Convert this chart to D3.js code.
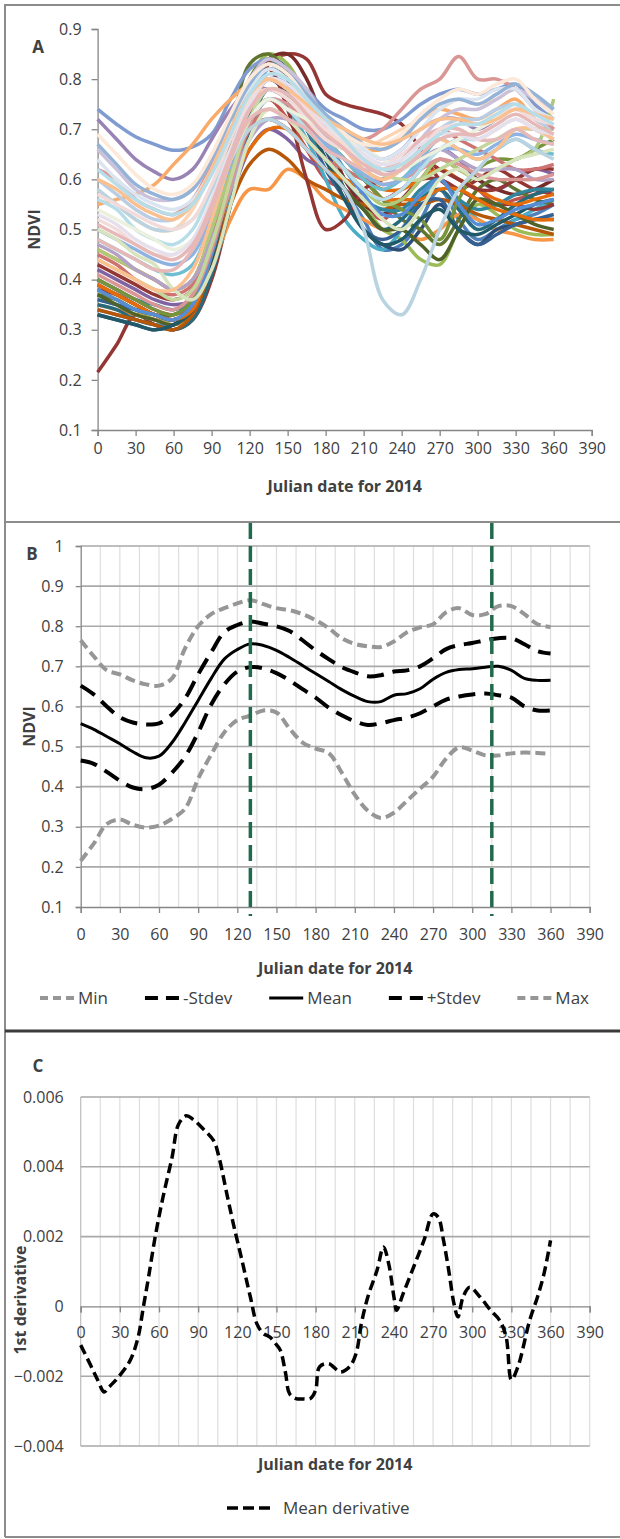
<!DOCTYPE html>
<html>
<head>
<meta charset="utf-8">
<script src="https://cdn.jsdelivr.net/npm/d3@7"></script>
<style>
  body { margin: 0; background: #fff; }
  svg text { font-family: "Open Sans", sans-serif; fill: #404040; }
</style>
</head>
<body>
<svg id="chart" width="620" height="1539"></svg>
<script>
// ---- data ----
const xTickDays = [0, 30, 60, 90, 120, 150, 180, 210, 240, 270, 300, 330, 360, 390];
const ndviTicksA = [0.1, 0.2, 0.3, 0.4, 0.5, 0.6, 0.7, 0.8, 0.9];
const ndviTicksB = [0.1, 0.2, 0.3, 0.4, 0.5, 0.6, 0.7, 0.8, 0.9, 1];
const derivTicks = [-0.004, -0.002, 0, 0.002, 0.004, 0.006];

// panel A: individual pixel profiles (saturated ones first, pale ones drawn on top)
const pixelDays = [0, 15, 30, 45, 60, 75, 90, 105, 120, 135, 150, 165, 180, 195, 210, 225, 240, 255, 270, 285, 300, 315, 330, 345, 360];
const pixelColors = [
  '#943634', '#4F81BD', '#C0504D', '#9BBB59', '#8064A2', '#4BACC6', '#F79646', '#2C4D75', '#772C2A',
  '#5F7530', '#276A7C', '#B65708', '#376092', '#953735', '#31859C', '#77933C', '#E46C0A', '#943634',
  '#4F6228', '#215968', '#E46C0A', '#558ED5',
  '#7F9BCF', '#9983B5', '#CD7371', '#AFC97A', '#6FBDD1', '#F9AB6B', '#B3A2C7', '#D99694', '#8DB3E2', '#C3D69B',
  '#B9CDE5', '#D99694', '#D7E4BD', '#FCD5B5', '#CCC1DA', '#B7DEE8', '#B9D3E0', '#F2DCDB', '#FAC090',
  '#EBF1DE', '#DBE5F1', '#E6B9B8', '#95B3D7', '#FDE9D9', '#E5E0EC', '#F2DCDB', '#FAC090', '#B7DEE8', '#E6B9B8'
];
const pixelNdvi = [
  [0.215,0.27,0.33,0.31,0.30,0.32,0.40,0.55,0.72,0.83,0.85,0.84,0.77,0.75,0.74,0.73,0.71,0.66,0.60,0.58,0.60,0.62,0.60,0.58,0.57],
  [0.34,0.33,0.32,0.31,0.31,0.33,0.42,0.58,0.74,0.82,0.80,0.72,0.64,0.58,0.52,0.46,0.47,0.52,0.58,0.52,0.48,0.50,0.52,0.53,0.55],
  [0.40,0.38,0.36,0.34,0.33,0.35,0.44,0.58,0.72,0.76,0.72,0.66,0.60,0.58,0.55,0.52,0.56,0.60,0.62,0.60,0.58,0.55,0.56,0.57,0.58],
  [0.38,0.36,0.34,0.32,0.32,0.33,0.45,0.63,0.80,0.85,0.83,0.76,0.68,0.60,0.55,0.50,0.48,0.44,0.43,0.50,0.55,0.53,0.50,0.49,0.49],
  [0.42,0.40,0.38,0.36,0.35,0.36,0.44,0.56,0.66,0.70,0.68,0.64,0.62,0.60,0.58,0.56,0.58,0.62,0.66,0.64,0.60,0.58,0.60,0.62,0.61],
  [0.36,0.35,0.33,0.32,0.31,0.33,0.42,0.56,0.70,0.76,0.74,0.68,0.60,0.52,0.48,0.46,0.50,0.56,0.60,0.56,0.52,0.50,0.52,0.54,0.56],
  [0.35,0.34,0.33,0.32,0.31,0.33,0.42,0.52,0.58,0.58,0.62,0.60,0.56,0.54,0.52,0.50,0.50,0.48,0.50,0.53,0.52,0.50,0.49,0.48,0.48],
  [0.33,0.32,0.31,0.30,0.31,0.34,0.45,0.62,0.78,0.84,0.82,0.74,0.66,0.58,0.50,0.47,0.46,0.50,0.55,0.50,0.47,0.50,0.51,0.52,0.52],
  [0.39,0.37,0.35,0.33,0.32,0.34,0.44,0.60,0.76,0.84,0.85,0.80,0.70,0.60,0.55,0.53,0.56,0.60,0.64,0.62,0.60,0.58,0.57,0.58,0.60],
  [0.37,0.36,0.34,0.33,0.33,0.36,0.50,0.68,0.83,0.85,0.81,0.74,0.68,0.64,0.60,0.56,0.52,0.50,0.47,0.52,0.58,0.60,0.58,0.56,0.55],
  [0.35,0.34,0.32,0.31,0.30,0.32,0.41,0.55,0.70,0.78,0.76,0.70,0.64,0.58,0.54,0.50,0.52,0.56,0.58,0.54,0.50,0.52,0.55,0.57,0.58],
  [0.34,0.33,0.32,0.31,0.30,0.33,0.43,0.55,0.63,0.66,0.64,0.60,0.58,0.56,0.55,0.54,0.55,0.55,0.56,0.55,0.53,0.52,0.51,0.50,0.49],
  [0.36,0.35,0.34,0.33,0.32,0.35,0.46,0.62,0.76,0.80,0.77,0.70,0.62,0.56,0.50,0.48,0.50,0.55,0.56,0.50,0.47,0.49,0.51,0.52,0.53],
  [0.43,0.41,0.39,0.37,0.36,0.38,0.47,0.60,0.70,0.72,0.70,0.66,0.62,0.60,0.58,0.56,0.58,0.60,0.60,0.58,0.56,0.55,0.55,0.54,0.55],
  [0.40,0.38,0.36,0.35,0.34,0.36,0.46,0.60,0.72,0.78,0.76,0.70,0.64,0.60,0.56,0.54,0.54,0.58,0.60,0.56,0.54,0.55,0.57,0.58,0.58],
  [0.40,0.38,0.36,0.34,0.33,0.36,0.48,0.64,0.78,0.82,0.80,0.74,0.68,0.64,0.60,0.56,0.54,0.52,0.48,0.56,0.62,0.64,0.64,0.66,0.68],
  [0.46,0.44,0.42,0.40,0.38,0.40,0.50,0.62,0.72,0.76,0.74,0.70,0.66,0.62,0.60,0.58,0.58,0.60,0.62,0.60,0.58,0.56,0.55,0.56,0.57],
  [0.38,0.37,0.35,0.33,0.32,0.34,0.45,0.62,0.78,0.82,0.74,0.60,0.50,0.52,0.58,0.60,0.62,0.64,0.62,0.60,0.58,0.58,0.60,0.62,0.62],
  [0.37,0.35,0.33,0.32,0.31,0.34,0.46,0.64,0.80,0.84,0.80,0.72,0.64,0.58,0.54,0.50,0.50,0.47,0.44,0.50,0.56,0.55,0.53,0.51,0.50],
  [0.33,0.32,0.31,0.30,0.31,0.34,0.44,0.60,0.74,0.80,0.78,0.72,0.64,0.56,0.50,0.47,0.48,0.52,0.54,0.50,0.49,0.51,0.53,0.55,0.56],
  [0.39,0.37,0.35,0.33,0.32,0.34,0.45,0.58,0.66,0.70,0.70,0.66,0.62,0.60,0.58,0.56,0.56,0.56,0.58,0.58,0.56,0.54,0.53,0.52,0.52],
  [0.38,0.36,0.34,0.33,0.32,0.35,0.45,0.60,0.74,0.80,0.79,0.74,0.68,0.62,0.57,0.53,0.53,0.57,0.60,0.55,0.51,0.52,0.54,0.55,0.56],
  [0.74,0.71,0.685,0.67,0.658,0.665,0.69,0.76,0.82,0.84,0.82,0.78,0.74,0.72,0.70,0.70,0.72,0.75,0.77,0.78,0.77,0.78,0.79,0.75,0.72],
  [0.72,0.68,0.64,0.615,0.60,0.62,0.68,0.74,0.78,0.78,0.76,0.72,0.70,0.68,0.66,0.64,0.66,0.70,0.72,0.72,0.70,0.72,0.74,0.72,0.70],
  [0.45,0.43,0.40,0.38,0.37,0.39,0.48,0.60,0.70,0.74,0.72,0.68,0.64,0.62,0.60,0.60,0.62,0.66,0.70,0.68,0.66,0.64,0.62,0.62,0.63],
  [0.46,0.44,0.42,0.40,0.38,0.40,0.50,0.62,0.72,0.76,0.74,0.70,0.66,0.62,0.58,0.55,0.56,0.60,0.64,0.62,0.60,0.62,0.64,0.66,0.76],
  [0.48,0.46,0.44,0.42,0.41,0.43,0.52,0.64,0.74,0.78,0.76,0.72,0.68,0.64,0.60,0.58,0.60,0.64,0.68,0.66,0.64,0.66,0.68,0.66,0.65],
  [0.55,0.56,0.57,0.59,0.63,0.67,0.72,0.76,0.79,0.80,0.78,0.74,0.70,0.68,0.66,0.66,0.68,0.72,0.74,0.73,0.72,0.74,0.76,0.72,0.70],
  [0.47,0.45,0.42,0.40,0.38,0.40,0.48,0.58,0.68,0.72,0.72,0.70,0.68,0.66,0.64,0.62,0.62,0.64,0.66,0.64,0.62,0.62,0.62,0.60,0.60],
  [0.41,0.39,0.37,0.35,0.34,0.37,0.46,0.59,0.71,0.76,0.75,0.71,0.67,0.64,0.61,0.59,0.60,0.62,0.64,0.63,0.61,0.60,0.60,0.60,0.61],
  [0.50,0.48,0.46,0.44,0.43,0.45,0.53,0.63,0.72,0.76,0.74,0.70,0.67,0.64,0.61,0.59,0.60,0.63,0.66,0.66,0.65,0.67,0.69,0.68,0.67],
  [0.44,0.42,0.40,0.38,0.36,0.38,0.47,0.60,0.72,0.78,0.77,0.73,0.70,0.67,0.64,0.61,0.60,0.60,0.62,0.64,0.66,0.68,0.70,0.70,0.70],
  [0.60,0.57,0.54,0.52,0.52,0.55,0.62,0.70,0.76,0.80,0.78,0.74,0.70,0.66,0.62,0.60,0.62,0.66,0.70,0.72,0.72,0.74,0.75,0.72,0.70],
  [0.62,0.60,0.56,0.54,0.53,0.56,0.63,0.72,0.78,0.80,0.78,0.74,0.72,0.70,0.68,0.70,0.74,0.78,0.80,0.845,0.80,0.80,0.78,0.74,0.70],
  [0.50,0.48,0.45,0.43,0.38,0.36,0.42,0.55,0.68,0.74,0.72,0.68,0.64,0.60,0.56,0.52,0.50,0.54,0.60,0.62,0.60,0.62,0.64,0.65,0.66],
  [0.58,0.55,0.52,0.50,0.50,0.54,0.62,0.70,0.76,0.78,0.76,0.72,0.68,0.66,0.66,0.68,0.70,0.72,0.74,0.76,0.75,0.76,0.78,0.74,0.72],
  [0.66,0.62,0.58,0.56,0.56,0.58,0.64,0.72,0.80,0.84,0.82,0.78,0.72,0.68,0.64,0.62,0.64,0.68,0.72,0.74,0.74,0.76,0.78,0.76,0.74],
  [0.56,0.54,0.50,0.48,0.47,0.50,0.58,0.66,0.72,0.76,0.74,0.70,0.66,0.62,0.58,0.56,0.58,0.62,0.66,0.68,0.68,0.70,0.72,0.70,0.68],
  [0.58,0.55,0.52,0.50,0.50,0.52,0.58,0.64,0.70,0.72,0.70,0.66,0.62,0.58,0.50,0.36,0.33,0.40,0.50,0.58,0.62,0.66,0.68,0.66,0.64],
  [0.52,0.50,0.47,0.45,0.45,0.48,0.56,0.66,0.74,0.78,0.76,0.72,0.68,0.66,0.64,0.63,0.65,0.68,0.70,0.70,0.68,0.70,0.72,0.70,0.68],
  [0.44,0.42,0.40,0.38,0.38,0.42,0.52,0.64,0.74,0.80,0.78,0.74,0.70,0.66,0.62,0.60,0.62,0.66,0.68,0.66,0.64,0.66,0.70,0.70,0.68],
  [0.54,0.52,0.50,0.48,0.46,0.48,0.55,0.64,0.72,0.76,0.74,0.72,0.70,0.68,0.66,0.64,0.62,0.64,0.66,0.68,0.70,0.72,0.74,0.73,0.72],
  [0.64,0.60,0.57,0.55,0.54,0.56,0.62,0.70,0.78,0.82,0.80,0.76,0.72,0.70,0.66,0.64,0.66,0.70,0.74,0.76,0.76,0.78,0.78,0.74,0.72],
  [0.48,0.46,0.44,0.42,0.42,0.46,0.54,0.64,0.72,0.74,0.72,0.70,0.66,0.64,0.62,0.62,0.64,0.68,0.70,0.70,0.68,0.68,0.70,0.68,0.67],
  [0.67,0.63,0.59,0.57,0.56,0.58,0.64,0.72,0.79,0.83,0.81,0.77,0.73,0.70,0.67,0.66,0.68,0.72,0.75,0.76,0.75,0.77,0.79,0.77,0.74],
  [0.69,0.65,0.61,0.58,0.57,0.59,0.65,0.73,0.80,0.83,0.81,0.76,0.72,0.69,0.67,0.67,0.69,0.73,0.76,0.78,0.77,0.79,0.80,0.76,0.73],
  [0.53,0.51,0.48,0.46,0.45,0.48,0.56,0.66,0.75,0.80,0.79,0.75,0.71,0.68,0.65,0.63,0.64,0.67,0.69,0.69,0.68,0.70,0.72,0.70,0.69],
  [0.57,0.55,0.53,0.51,0.50,0.52,0.59,0.68,0.76,0.80,0.78,0.74,0.70,0.67,0.64,0.62,0.63,0.66,0.70,0.71,0.71,0.73,0.74,0.72,0.71],
  [0.60,0.58,0.55,0.53,0.52,0.55,0.62,0.70,0.77,0.80,0.78,0.75,0.72,0.70,0.68,0.67,0.68,0.70,0.72,0.72,0.71,0.72,0.74,0.73,0.72],
  [0.62,0.59,0.56,0.54,0.53,0.55,0.61,0.69,0.77,0.81,0.80,0.76,0.72,0.68,0.64,0.62,0.63,0.66,0.69,0.71,0.71,0.73,0.75,0.73,0.71],
  [0.51,0.49,0.47,0.45,0.44,0.47,0.55,0.65,0.74,0.78,0.77,0.73,0.69,0.66,0.63,0.61,0.62,0.65,0.68,0.69,0.69,0.71,0.73,0.71,0.69]
];

// panel B: summary statistics
const statDays = [0,10,20,30,40,50,60,70,80,90,100,110,120,130,140,150,160,170,180,190,200,210,220,230,240,250,260,270,280,290,300,310,320,330,340,350,360];
const ndviMin = [0.215,0.258,0.307,0.318,0.305,0.298,0.303,0.32,0.345,0.42,0.48,0.535,0.566,0.577,0.59,0.585,0.545,0.51,0.495,0.484,0.435,0.38,0.34,0.322,0.335,0.365,0.395,0.425,0.47,0.498,0.49,0.478,0.478,0.483,0.485,0.484,0.482];
const ndviMinusSd = [0.465,0.457,0.437,0.415,0.398,0.394,0.405,0.435,0.475,0.535,0.605,0.655,0.687,0.698,0.695,0.683,0.665,0.643,0.622,0.597,0.578,0.563,0.554,0.558,0.566,0.572,0.583,0.60,0.617,0.625,0.63,0.632,0.628,0.622,0.60,0.59,0.59];
const ndviMean = [0.557,0.543,0.525,0.507,0.487,0.472,0.476,0.51,0.56,0.615,0.67,0.718,0.742,0.756,0.752,0.74,0.722,0.702,0.682,0.662,0.642,0.625,0.612,0.612,0.628,0.632,0.644,0.668,0.685,0.692,0.694,0.698,0.70,0.69,0.67,0.665,0.665];
const ndviPlusSd = [0.652,0.63,0.60,0.573,0.56,0.555,0.558,0.58,0.62,0.68,0.735,0.785,0.803,0.812,0.806,0.80,0.788,0.765,0.74,0.718,0.698,0.685,0.675,0.678,0.687,0.69,0.70,0.72,0.743,0.753,0.758,0.765,0.77,0.77,0.755,0.738,0.732];
const ndviMax = [0.765,0.725,0.69,0.68,0.665,0.655,0.652,0.67,0.745,0.80,0.83,0.845,0.857,0.865,0.855,0.845,0.84,0.83,0.815,0.795,0.77,0.756,0.75,0.748,0.762,0.785,0.797,0.805,0.835,0.845,0.828,0.83,0.85,0.85,0.83,0.805,0.798];
const statNames = ['Min', '-Stdev', 'Mean', '+Stdev', 'Max'];
const peakDays = [130, 315];

// panel C: first derivative of the mean
const derivDays = [0,7,13,18,22,29,38,44,48,52,57,63,70,75,81,86,94,102,106,112,117,123,130,135,140,145,150,153,157,160,165,170,176,180,183,190,199,206,211,215,220,227,232,236,240,242,247,255,263,270,274,278,282,286,289,293,298,306,314,321,326,330,335,344,350,355,360];
const derivMean = [-0.00111,-0.00164,-0.00211,-0.00245,-0.0023,-0.00202,-0.00154,-0.00088,-0.00002,0.00084,
  0.00198,0.00312,0.00427,0.00522,0.00546,0.00536,0.00508,0.00474,0.00427,0.00322,
  0.00236,0.00141,0.00027,-0.0005,-0.00078,-0.00088,-0.0011,-0.00126,-0.00192,-0.0025,
  -0.00264,-0.00265,-0.00264,-0.0024,-0.00173,-0.00164,-0.00188,-0.00173,-0.00135,-0.0005,
  0.00027,0.00103,0.0017,0.00122,0.00027,-0.00011,0.00036,0.00112,0.00189,0.00265,
  0.00255,0.00189,0.00103,0.00008,-0.0003,0.00027,0.00055,0.00027,-0.00011,-0.0004,
  -0.00088,-0.0021,-0.00173,-0.0004,0.00027,0.00094,0.00189];

// ---- layout ----
const svg = d3.select('#chart');
const axisGray = '#868686';
const font = '"Open Sans", sans-serif';
const tickSize = 16;

const styleAxis = (g) => {
    g.attr('font-family', font).attr('font-size', tickSize);
    g.select('.domain').attr('stroke', axisGray).attr('stroke-width', 1.3);
    g.selectAll('.tick line').attr('stroke', axisGray).attr('stroke-width', 1.3);
    g.selectAll('.tick text').attr('fill', '#3a3a3a');
};

const addText = (txt, x, y, opts = {}) => {
    const t = svg.append('text')
        .attr('x', x).attr('y', y)
        .attr('text-anchor', opts.anchor || 'middle')
        .attr('font-size', opts.size || 16)
        .attr('font-weight', opts.bold ? 'bold' : 'normal')
        .attr('fill', opts.fill || '#262626')
        .text(txt);
    if (opts.rotate) t.attr('transform', `rotate(-90, ${x}, ${y})`);
    return t;
};

// frame around the panels
const frame = svg.append('g').attr('fill', 'none');
frame.append('path').attr('d', 'M5,1537V5H620').attr('stroke', '#8c8c8c').attr('stroke-width', 2);
frame.append('line').attr('x1', 5).attr('x2', 620).attr('y1', 522).attr('y2', 522).attr('stroke', '#8c8c8c').attr('stroke-width', 2);
frame.append('line').attr('x1', 5).attr('x2', 620).attr('y1', 1031).attr('y2', 1031).attr('stroke', '#3a3a3a').attr('stroke-width', 3);
frame.append('line').attr('x1', 5).attr('x2', 620).attr('y1', 1537).attr('y2', 1537).attr('stroke', '#8c8c8c').attr('stroke-width', 2);

// ---- panel A ----
const xA = d3.scaleLinear().domain([0, 390]).range([97.6, 591.7]);
const yA = d3.scaleLinear().domain([0.1, 0.9]).range([430, 29]);

svg.append('g').attr('transform', `translate(0,${yA(0.1)})`)
   .call(d3.axisBottom(xA).tickValues(xTickDays).tickSize(6).tickPadding(7).tickFormat(d3.format('d')))
   .call(styleAxis);
svg.append('g').attr('transform', `translate(${xA(0)},0)`)
   .call(d3.axisLeft(yA).tickValues(ndviTicksA).tickSize(6).tickPadding(10).tickFormat(d3.format('.1f')))
   .call(styleAxis);

const lineA = d3.line()
    .x((d, i) => xA(pixelDays[i]))
    .y(d => yA(d))
    .curve(d3.curveCatmullRom.alpha(0.5));

svg.append('g').selectAll('path')
   .data(pixelNdvi)
   .join('path')
   .attr('d', lineA)
   .attr('fill', 'none')
   .attr('stroke', (d, i) => pixelColors[i])
   .attr('stroke-width', 3.5);

addText('A', 38, 53, {bold: true, size: 17});
addText('NDVI', 40, (yA(0.1) + yA(0.9)) / 2, {bold: true, rotate: true, size: 16});
addText('Julian date for 2014', (xA(0) + xA(390)) / 2, 492, {bold: true, size: 16});

// ---- panel B ----
const xB = d3.scaleLinear().domain([0, 390]).range([80.7, 589.7]);
const yB = d3.scaleLinear().domain([0.1, 1]).range([907, 546]);

const gridB = svg.append('g');
gridB.selectAll('line.v')
     .data(d3.range(15, 391, 15))
     .join('line')
     .attr('x1', d => xB(d)).attr('x2', d => xB(d))
     .attr('y1', yB(1)).attr('y2', yB(0.1))
     .attr('stroke', '#dedede').attr('stroke-width', 1.2);
gridB.selectAll('line.h')
     .data(ndviTicksB.slice(1))
     .join('line')
     .attr('x1', xB(0)).attr('x2', xB(390))
     .attr('y1', d => yB(d)).attr('y2', d => yB(d))
     .attr('stroke', '#a9a9a9').attr('stroke-width', 1.6);

svg.append('g').attr('transform', `translate(0,${yB(0.1)})`)
   .call(d3.axisBottom(xB).tickValues(xTickDays).tickSize(6).tickPadding(16).tickFormat(d3.format('d')))
   .call(styleAxis);
svg.append('g').attr('transform', `translate(${xB(0)},0)`)
   .call(d3.axisLeft(yB).tickValues(ndviTicksB).tickSize(5).tickPadding(12).tickFormat(d => d === 1 ? '1' : d3.format('.1f')(d)))
   .call(styleAxis);

const lineB = d3.line()
    .x((d, i) => xB(statDays[i]))
    .y(d => yB(d))
    .curve(d3.curveCatmullRom.alpha(0.5));

const statStyles = [
    {data: ndviMin, color: '#969696', dash: '10,5', width: 4},
    {data: ndviMinusSd, color: '#000', dash: '17,9', width: 4},
    {data: ndviMean, color: '#000', dash: null, width: 3},
    {data: ndviPlusSd, color: '#000', dash: '17,9', width: 4},
    {data: ndviMax, color: '#969696', dash: '10,5', width: 4}
];

svg.append('g').selectAll('path')
   .data(statStyles)
   .join('path')
   .attr('d', d => lineB(d.data))
   .attr('fill', 'none')
   .attr('stroke', d => d.color)
   .attr('stroke-width', d => d.width)
   .attr('stroke-dasharray', d => d.dash);

svg.append('g').selectAll('line')
   .data(peakDays)
   .join('line')
   .attr('x1', d => xB(d)).attr('x2', d => xB(d))
   .attr('y1', yB(1) - 23).attr('y2', yB(0.1) + 9)
   .attr('stroke', '#216a4c').attr('stroke-width', 3.5)
   .attr('stroke-dasharray', '16,7');

addText('B', 32, 560, {bold: true, size: 17});
addText('NDVI', 35, (yB(0.1) + yB(1)) / 2, {bold: true, rotate: true, size: 16});
addText('Julian date for 2014', (xB(0) + xB(390)) / 2, 974, {bold: true, size: 16});

// legend B, spread over the plot width
const legB = svg.append('g').attr('font-family', font).attr('font-size', 17);
const legItems = legB.selectAll('g').data(statStyles).join('g');
legItems.append('line')
   .attr('x1', 0).attr('x2', 34).attr('y1', 0).attr('y2', 0)
   .attr('stroke', d => d.color).attr('stroke-width', d => d.width)
   .attr('stroke-dasharray', (d, i) => d.dash ? (i === 1 || i === 3 ? '13,8' : '8,5') : null);
legItems.append('text').attr('x', 38).attr('y', 6).attr('fill', '#404040').text((d, i) => statNames[i]);
const legWidths = legItems.nodes().map(n => 38 + n.querySelector('text').getComputedTextLength());
const legSpan = 589 - 40;
const legGap = (legSpan - d3.sum(legWidths)) / (legWidths.length - 1);
let legX = 40;
legItems.each(function (d, i) {
    d3.select(this).attr('transform', `translate(${legX},998)`);
    legX += legWidths[i] + legGap;
});

// ---- panel C ----
const xC = d3.scaleLinear().domain([0, 390]).range([80.7, 589.7]);
const yC = d3.scaleLinear().domain([-0.004, 0.006]).range([1446, 1097]);

const gridC = svg.append('g');
gridC.selectAll('line.v')
     .data(d3.range(0, 391, 15))
     .join('line')
     .attr('x1', d => xC(d)).attr('x2', d => xC(d))
     .attr('y1', yC(0.006)).attr('y2', yC(-0.004))
     .attr('stroke', d => d === 0 ? '#bdbdbd' : '#dedede').attr('stroke-width', 1.2);
gridC.selectAll('line.h')
     .data(derivTicks.filter(d => d !== 0))
     .join('line')
     .attr('x1', xC(0)).attr('x2', xC(390))
     .attr('y1', d => yC(d)).attr('y2', d => yC(d))
     .attr('stroke', '#a9a9a9').attr('stroke-width', 1.6);

svg.append('g').attr('transform', `translate(0,${yC(0)})`)
   .call(d3.axisBottom(xC).tickValues(xTickDays).tickSize(6).tickPadding(14).tickFormat(d3.format('d')))
   .call(styleAxis);
svg.append('g').attr('transform', `translate(${xC(0)},0)`)
   .call(d3.axisLeft(yC).tickValues(derivTicks).tickSize(0).tickPadding(17).tickFormat(d => d === 0 ? '0' : d3.format('.3f')(d)))
   .call(styleAxis)
   .call(g => g.select('.domain').remove());

const lineC = d3.line()
    .x((d, i) => xC(derivDays[i]))
    .y(d => yC(d))
    .curve(d3.curveCatmullRom.alpha(0.5));

svg.append('path')
   .datum(derivMean)
   .attr('d', lineC)
   .attr('fill', 'none')
   .attr('stroke', '#000')
   .attr('stroke-width', 3.5)
   .attr('stroke-dasharray', '10,5');

addText('C', 38, 1072, {bold: true, size: 17});
addText('1st derivative', 26, 1300, {bold: true, rotate: true, size: 16});
addText('Julian date for 2014', (xC(0) + xC(390)) / 2, 1470, {bold: true, size: 16});

const legC = svg.append('g').attr('transform', 'translate(227,1508)');
legC.append('line').attr('x1', 0).attr('x2', 44).attr('y1', 0).attr('y2', 0)
    .attr('stroke', '#000').attr('stroke-width', 3.5).attr('stroke-dasharray', '11,5');
legC.append('text').attr('x', 56).attr('y', 6).attr('font-size', 17).attr('fill', '#404040').text('Mean derivative');
</script>
</body>
</html>
